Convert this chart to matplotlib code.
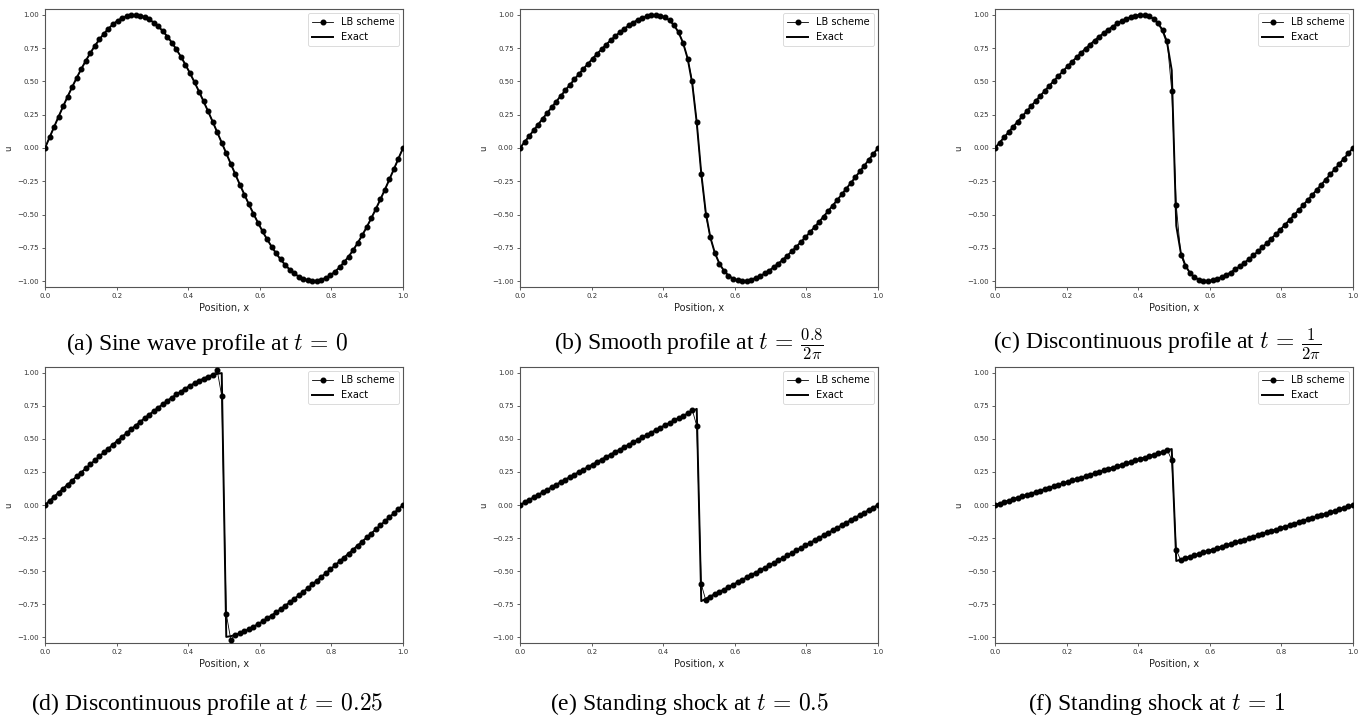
import numpy as np
import matplotlib
matplotlib.use("Agg")
import matplotlib.pyplot as plt

# ---------------- data ----------------
N_POINTS = 80
x = np.linspace(0.0, 1.0, N_POINTS)

exact_a = [0.000, 0.079, 0.158, 0.236, 0.313, 0.387, 0.459, 0.528, 0.594, 0.656,
           0.714, 0.768, 0.816, 0.859, 0.897, 0.930, 0.956, 0.976, 0.990, 0.998,
           1.000, 0.995, 0.984, 0.967, 0.943, 0.914, 0.879, 0.838, 0.792, 0.741,
           0.686, 0.626, 0.562, 0.494, 0.424, 0.350, 0.275, 0.198, 0.119, 0.040,
           -0.040, -0.119, -0.198, -0.275, -0.350, -0.424, -0.494, -0.562, -0.626, -0.686,
           -0.741, -0.792, -0.838, -0.879, -0.914, -0.943, -0.967, -0.984, -0.995, -1.000,
           -0.998, -0.990, -0.976, -0.956, -0.930, -0.897, -0.859, -0.816, -0.768, -0.714,
           -0.656, -0.594, -0.528, -0.459, -0.387, -0.313, -0.236, -0.158, -0.079, 0.000]

exact_b = [0.000, 0.044, 0.088, 0.132, 0.176, 0.220, 0.263, 0.306, 0.349, 0.392,
           0.433, 0.475, 0.515, 0.556, 0.595, 0.633, 0.671, 0.707, 0.742, 0.777,
           0.809, 0.840, 0.869, 0.896, 0.921, 0.943, 0.963, 0.978, 0.990, 0.998,
           1.000, 0.995, 0.982, 0.959, 0.923, 0.869, 0.789, 0.672, 0.487, 0.192,
           -0.192, -0.487, -0.672, -0.789, -0.869, -0.923, -0.959, -0.982, -0.995, -1.000,
           -0.998, -0.990, -0.978, -0.963, -0.943, -0.921, -0.896, -0.869, -0.840, -0.809,
           -0.777, -0.742, -0.707, -0.671, -0.633, -0.595, -0.556, -0.515, -0.475, -0.433,
           -0.392, -0.349, -0.306, -0.263, -0.220, -0.176, -0.132, -0.088, -0.044, 0.000]

exact_c = [0.000, 0.040, 0.079, 0.119, 0.159, 0.198, 0.237, 0.276, 0.315, 0.354,
           0.392, 0.430, 0.468, 0.505, 0.541, 0.577, 0.613, 0.648, 0.681, 0.715,
           0.747, 0.778, 0.808, 0.837, 0.864, 0.890, 0.913, 0.936, 0.955, 0.971,
           0.985, 0.995, 1.000, 0.998, 0.990, 0.971, 0.938, 0.882, 0.787, 0.585,
           -0.585, -0.787, -0.882, -0.938, -0.971, -0.990, -0.998, -1.000, -0.995, -0.985,
           -0.971, -0.955, -0.936, -0.913, -0.890, -0.864, -0.837, -0.808, -0.778, -0.747,
           -0.715, -0.681, -0.648, -0.613, -0.577, -0.541, -0.505, -0.468, -0.430, -0.392,
           -0.354, -0.315, -0.276, -0.237, -0.198, -0.159, -0.119, -0.079, -0.040, 0.000]

exact_d = [0.000, 0.031, 0.062, 0.093, 0.124, 0.154, 0.185, 0.216, 0.246, 0.277,
           0.307, 0.338, 0.368, 0.398, 0.427, 0.457, 0.487, 0.516, 0.544, 0.573,
           0.601, 0.630, 0.657, 0.684, 0.711, 0.737, 0.763, 0.789, 0.813, 0.837,
           0.859, 0.882, 0.902, 0.922, 0.941, 0.957, 0.972, 0.985, 0.993, 0.999,
           -0.999, -0.993, -0.985, -0.972, -0.957, -0.941, -0.922, -0.902, -0.882, -0.859,
           -0.837, -0.813, -0.789, -0.763, -0.737, -0.711, -0.684, -0.657, -0.630, -0.601,
           -0.573, -0.544, -0.516, -0.487, -0.457, -0.427, -0.398, -0.368, -0.338, -0.307,
           -0.277, -0.246, -0.216, -0.185, -0.154, -0.124, -0.093, -0.062, -0.031, 0.000]

exact_e = [0.000, 0.019, 0.038, 0.058, 0.077, 0.096, 0.115, 0.134, 0.154, 0.173,
           0.192, 0.211, 0.230, 0.249, 0.268, 0.287, 0.306, 0.325, 0.344, 0.363,
           0.382, 0.401, 0.419, 0.438, 0.457, 0.475, 0.494, 0.512, 0.531, 0.549,
           0.567, 0.586, 0.604, 0.622, 0.640, 0.658, 0.675, 0.693, 0.710, 0.728,
           -0.728, -0.710, -0.693, -0.675, -0.658, -0.640, -0.622, -0.604, -0.586, -0.567,
           -0.549, -0.531, -0.512, -0.494, -0.475, -0.457, -0.438, -0.419, -0.401, -0.382,
           -0.363, -0.344, -0.325, -0.306, -0.287, -0.268, -0.249, -0.230, -0.211, -0.192,
           -0.173, -0.154, -0.134, -0.115, -0.096, -0.077, -0.058, -0.038, -0.019, 0.000]

exact_f = [0.000, 0.011, 0.022, 0.033, 0.044, 0.055, 0.066, 0.076, 0.087, 0.098,
           0.109, 0.120, 0.131, 0.142, 0.153, 0.164, 0.175, 0.186, 0.196, 0.207,
           0.218, 0.229, 0.240, 0.251, 0.262, 0.273, 0.283, 0.294, 0.305, 0.316,
           0.327, 0.338, 0.348, 0.359, 0.370, 0.381, 0.392, 0.402, 0.413, 0.424,
           -0.424, -0.413, -0.402, -0.392, -0.381, -0.370, -0.359, -0.348, -0.338, -0.327,
           -0.316, -0.305, -0.294, -0.283, -0.273, -0.262, -0.251, -0.240, -0.229, -0.218,
           -0.207, -0.196, -0.186, -0.175, -0.164, -0.153, -0.142, -0.131, -0.120, -0.109,
           -0.098, -0.087, -0.076, -0.066, -0.055, -0.044, -0.033, -0.022, -0.011, 0.000]

# LB scheme: coincides with the exact curve except at the points next to the shock
lb_shift_a = {}
lb_shift_b = {38: 0.505, 41: -0.505}
lb_shift_c = {37: 0.890, 38: 0.805, 39: 0.432, 40: -0.432, 41: -0.805, 42: -0.890}
lb_shift_d = {37: 0.982, 38: 1.020, 39: 0.825, 40: -0.825, 41: -1.020, 42: -0.982}
lb_shift_e = {38: 0.722, 39: 0.600, 40: -0.600, 41: -0.722}
lb_shift_f = {38: 0.420, 39: 0.340, 40: -0.340, 41: -0.420}

captions = [r"(a) Sine wave profile at $t\,=\,0$",
            r"(b) Smooth profile at $t\,=\,\frac{0.8}{2\pi}$",
            r"(c) Discontinuous profile at $t\,=\,\frac{1}{2\pi}$",
            r"(d) Discontinuous profile at $t\,=\,0.25$",
            r"(e) Standing shock at $t\,=\,0.5$",
            r"(f) Standing shock at $t\,=\,1$"]

x_ticks = [0.0, 0.2, 0.4, 0.6, 0.8, 1.0]
y_ticks = [-1.00, -0.75, -0.50, -0.25, 0.00, 0.25, 0.50, 0.75, 1.00]

# ---------------- figure ----------------
W, H = 1369, 719
plt.rcParams["mathtext.fontset"] = "cm"
fig = plt.figure(figsize=(W / 100, H / 100), dpi=100)

exacts = [exact_a, exact_b, exact_c, exact_d, exact_e, exact_f]
shifts = [lb_shift_a, lb_shift_b, lb_shift_c, lb_shift_d, lb_shift_e, lb_shift_f]

col_left = [45, 520, 995]
ax_w = 358
row_top = [9, 367]
ax_h = [278, 276]
cap_x = [207, 689, 1157]
cap_y = [344, 704]

spine_col = "#555555"
for i in range(6):
    r, c = divmod(i, 3)
    l = col_left[c]
    t = row_top[r]
    ax = fig.add_axes([l / W, 1 - (t + ax_h[r]) / H, ax_w / W, ax_h[r] / H])
    ex = list(exacts[i])
    lb = list(exacts[i])
    for k, v in shifts[i].items():
        lb[k] = v
    ax.plot(x, lb, color="k", lw=0.6, marker="o", ms=3.3, label="LB scheme", zorder=3)
    ax.plot(x, ex, color="k", lw=1.4, label="Exact", zorder=2)
    ax.set_xlim(0, 1)
    ax.set_ylim(-1.045, 1.045)
    ax.set_xticks(x_ticks)
    ax.set_xticklabels([f"{v:.1f}" for v in x_ticks])
    ax.set_yticks(y_ticks)
    ax.set_yticklabels([f"{v:.2f}".replace("-", "\u2212") for v in y_ticks])
    ax.tick_params(labelsize=5, length=2.5, width=0.6, pad=2,
                   colors="#444444", labelcolor="#333333")
    for s in ax.spines.values():
        s.set_color(spine_col)
        s.set_linewidth(0.8)
    ax.set_xlabel("Position, x", fontsize=7, color="#222222", labelpad=3)
    ax.set_ylabel("u", fontsize=6, color="#222222", labelpad=3)
    leg = ax.legend(loc="upper right", fontsize=7.0, frameon=True,
                    handlelength=2.2, borderaxespad=0.45, fancybox=True)
    leg.get_frame().set_edgecolor("#cccccc")
    leg.get_frame().set_linewidth(0.6)
    fig.text(cap_x[c] / W, 1 - cap_y[r] / H, captions[i], ha="center", va="center",
             fontsize=17, family="Liberation Serif")

fig.savefig("out.png", dpi=100)
